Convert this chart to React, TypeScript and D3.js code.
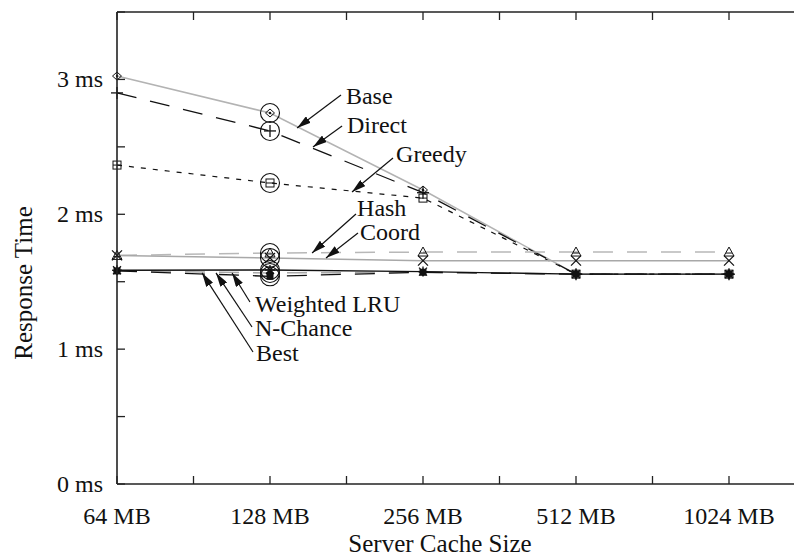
import React from "react";
import * as d3 from "d3";

const categories = ["64 MB", "128 MB", "256 MB", "512 MB", "1024 MB"];
const yTickLabels = ["0 ms", "1 ms", "2 ms", "3 ms"];

const baseVals = [3.025, 2.751, 2.18, 1.556, 1.556];
const directVals = [2.9, 2.618, 2.16, 1.556, 1.556];
const greedyVals = [2.365, 2.232, 2.12, 1.556, 1.556];
const hashVals = [1.695, 1.713, 1.72, 1.72, 1.72];
const coordVals = [1.695, 1.676, 1.656, 1.656, 1.656];
const wlruVals = [1.585, 1.587, 1.575, 1.556, 1.556];
const nchanceVals = [1.58, 1.565, 1.57, 1.556, 1.556];
const bestVals = [1.58, 1.54, 1.57, 1.556, 1.556];

const seriesNames = ["Base", "Direct", "Greedy", "Hash", "Coord", "Weighted LRU", "N-Chance", "Best"];

// annotation anchors in data coordinates: [tipX, tipY, startX, startY, labelX, labelBaselineY]
const annBase = [1.177, 2.64, 1.464, 2.884, 1.496, 2.818];
const annDirect = [1.281, 2.499, 1.471, 2.655, 1.503, 2.603];
const annGreedy = [1.536, 2.165, 1.804, 2.417, 1.824, 2.387];
const annHash = [1.275, 1.713, 1.562, 2.002, 1.569, 1.99];
const annCoord = [1.366, 1.676, 1.575, 1.861, 1.589, 1.812];
const annWlru = [0.752, 1.565, 0.869, 1.35, 0.902, 1.275];
const annNchance = [0.647, 1.565, 0.8825, 1.164, 0.902, 1.1];
const annBest = [0.556, 1.565, 0.889, 0.979, 0.909, 0.915];

const W = 794;
const H = 559;
const FONT = "Liberation Serif";

type Marker = "diamond" | "plus" | "boxline" | "triline" | "cross" | "star" | "fsquare" | "fdiamond";

function MarkerShape({ kind, cx, cy }: { kind: Marker; cx: number; cy: number }) {
  const s = "#111";
  switch (kind) {
    case "diamond":
      return (
        <g>
          <path d={`M${cx - 4.5},${cy} L${cx},${cy - 4} L${cx + 4.5},${cy} L${cx},${cy + 4} Z`} fill="none" stroke={s} strokeWidth={1} />
          <circle cx={cx} cy={cy} r={1.2} fill={s} />
        </g>
      );
    case "plus":
      return (
        <g stroke={s} strokeWidth={1.3}>
          <line x1={cx - 6} y1={cy} x2={cx + 6} y2={cy} />
          <line x1={cx} y1={cy - 6} x2={cx} y2={cy + 6} />
        </g>
      );
    case "boxline":
      return (
        <g stroke={s} strokeWidth={1} fill="none">
          <rect x={cx - 4} y={cy - 4} width={8} height={8} />
          <line x1={cx - 4} y1={cy} x2={cx + 4} y2={cy} />
        </g>
      );
    case "triline":
      return (
        <g stroke={s} strokeWidth={1} fill="none">
          <path d={`M${cx - 5},${cy + 4} L${cx},${cy - 5} L${cx + 5},${cy + 4} Z`} />
          <line x1={cx - 3} y1={cy + 1} x2={cx + 3} y2={cy + 1} />
        </g>
      );
    case "cross":
      return (
        <g stroke={s} strokeWidth={1.2}>
          <line x1={cx - 5} y1={cy - 5} x2={cx + 5} y2={cy + 5} />
          <line x1={cx - 5} y1={cy + 5} x2={cx + 5} y2={cy - 5} />
        </g>
      );
    case "star":
      return (
        <g stroke={s} strokeWidth={1.3}>
          <line x1={cx - 5} y1={cy} x2={cx + 5} y2={cy} />
          <line x1={cx} y1={cy - 5} x2={cx} y2={cy + 5} />
          <line x1={cx - 4} y1={cy - 4} x2={cx + 4} y2={cy + 4} />
          <line x1={cx - 4} y1={cy + 4} x2={cx + 4} y2={cy - 4} />
        </g>
      );
    case "fsquare":
      return <rect x={cx - 3.5} y={cy - 3.5} width={7} height={7} fill={s} />;
    case "fdiamond":
      return <path d={`M${cx - 4},${cy} L${cx},${cy - 4} L${cx + 4},${cy} L${cx},${cy + 4} Z`} fill={s} />;
  }
  return null;
}

export default function App() {
  const x = d3.scaleLinear().domain([0, 4.5]).range([117, 805.5]);
  const y = d3.scaleLinear().domain([0, 3.5]).range([484, 12]);
  const line = d3
    .line<number>()
    .x((_, i) => x(i))
    .y((v) => y(v));

  const series: { name: string; vals: number[]; stroke: string; dash?: string; width: number; marker: Marker }[] = [
    { name: seriesNames[0], vals: baseVals, stroke: "#b3b3b3", width: 1.5, marker: "diamond" },
    { name: seriesNames[1], vals: directVals, stroke: "#111", dash: "20,14", width: 1.3, marker: "plus" },
    { name: seriesNames[2], vals: greedyVals, stroke: "#111", dash: "5,7", width: 1.2, marker: "boxline" },
    { name: seriesNames[3], vals: hashVals, stroke: "#b8b8b8", dash: "20,14", width: 1.5, marker: "triline" },
    { name: seriesNames[4], vals: coordVals, stroke: "#a8a8a8", width: 1.5, marker: "cross" },
    { name: seriesNames[6], vals: nchanceVals, stroke: "#a8a8a8", dash: "20,14", width: 1.5, marker: "fdiamond" },
    { name: seriesNames[5], vals: wlruVals, stroke: "#111", width: 1.3, marker: "star" },
    { name: seriesNames[7], vals: bestVals, stroke: "#111", dash: "20,14", width: 1.3, marker: "fsquare" },
  ];

  const anns: { label: string; a: number[] }[] = [
    { label: "Base", a: annBase },
    { label: "Direct", a: annDirect },
    { label: "Greedy", a: annGreedy },
    { label: "Hash", a: annHash },
    { label: "Coord", a: annCoord },
    { label: "Weighted LRU", a: annWlru },
    { label: "N-Chance", a: annNchance },
    { label: "Best", a: annBest },
  ];

  const xTicks = d3.range(0, 4.51, 0.5);
  const yTicks = d3.range(0, 3.51, 0.5);
  const ts = { fontFamily: FONT };

  return (
    <svg width={W} height={H} style={{ position: "absolute", left: 0, top: 0, background: "#fff" }}>
      <defs>
        <marker id="ah" viewBox="0 0 14 8" refX={14} refY={4} markerWidth={14} markerHeight={8} markerUnits="userSpaceOnUse" orient="auto">
          <path d="M0,0 L14,4 L0,8 Z" fill="#111" />
        </marker>
      </defs>
      <rect x={0} y={0} width={W} height={H} fill="#fff" />

      {series.map((s) => (
        <path
          key={s.name}
          d={line(s.vals) || ""}
          fill="none"
          stroke={s.stroke}
          strokeWidth={s.width}
          strokeDasharray={s.dash}
        />
      ))}

      {series.map((s) =>
        s.vals.map((v, i) => <MarkerShape key={s.name + i} kind={s.marker} cx={x(i)} cy={y(v)} />)
      )}

      {series.map((s) => (
        <circle key={"c" + s.name} cx={x(1)} cy={y(s.vals[1])} r={9.5} fill="none" stroke="#111" strokeWidth={1.1} />
      ))}

      {anns.map((an) => (
        <g key={an.label}>
          <line
            x1={x(an.a[2])}
            y1={y(an.a[3])}
            x2={x(an.a[0])}
            y2={y(an.a[1])}
            stroke="#111"
            strokeWidth={1.2}
            markerEnd="url(#ah)"
          />
          <text x={x(an.a[4])} y={y(an.a[5])} fontSize={24} fill="#111" style={ts}>
            {an.label}
          </text>
        </g>
      ))}

      <line x1={x(0)} y1={y(0)} x2={W} y2={y(0)} stroke="#222" strokeWidth={1.6} />
      <line x1={x(0)} y1={y(3.5)} x2={W} y2={y(3.5)} stroke="#222" strokeWidth={1.6} />
      <line x1={x(0)} y1={y(0)} x2={x(0)} y2={y(3.5)} stroke="#222" strokeWidth={1.6} />

      {xTicks.map((t) => (
        <g key={"xt" + t}>
          <line x1={x(t)} y1={y(0)} x2={x(t)} y2={y(0) - 8} stroke="#222" strokeWidth={1.3} />
          <line x1={x(t)} y1={y(3.5)} x2={x(t)} y2={y(3.5) + 8} stroke="#222" strokeWidth={1.3} />
        </g>
      ))}
      {yTicks.map((t) => (
        <line key={"yt" + t} x1={x(0)} y1={y(t)} x2={x(0) + 8} y2={y(t)} stroke="#222" strokeWidth={1.3} />
      ))}

      {categories.map((c, i) => (
        <text key={c} x={x(i)} y={524} textAnchor="middle" fontSize={24} fill="#111" style={ts}>
          {c}
        </text>
      ))}
      {yTickLabels.map((l, i) => (
        <text key={l} x={103} y={y(i) + 8} textAnchor="end" fontSize={24} fill="#111" style={ts}>
          {l}
        </text>
      ))}

      <text x={440} y={552} textAnchor="middle" fontSize={25} fill="#111" style={ts}>
        Server Cache Size
      </text>
      <text transform="translate(32,283) rotate(-90)" textAnchor="middle" fontSize={25} fill="#111" style={ts}>
        Response Time
      </text>
    </svg>
  );
}
